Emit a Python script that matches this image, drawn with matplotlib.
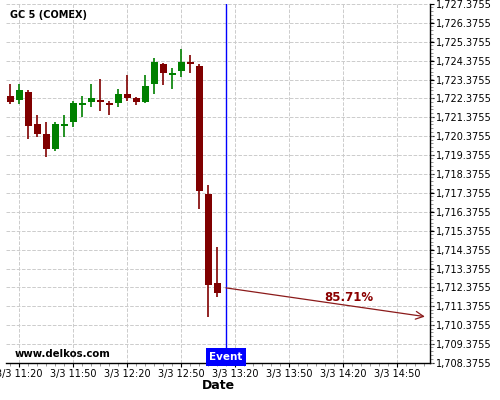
import numpy as np
import pandas as pd
import matplotlib
matplotlib.use('Agg')
import matplotlib.pyplot as plt
import matplotlib.dates as mdates
from matplotlib.ticker import MultipleLocator, FuncFormatter

# 5-minute candles, GC 5 (COMEX)
times = pd.date_range('2021-03-03 11:15', periods=24, freq='5min')
opens = [1722.51, 1722.30, 1722.72, 1721.03, 1720.50, 1719.72, 1720.92, 1721.13,
         1722.03, 1722.19, 1722.30, 1722.15, 1722.15, 1722.61, 1722.40, 1722.19,
         1723.14, 1724.20, 1723.64, 1723.85, 1724.31, 1724.09, 1717.32, 1712.63]
highs = [1723.14, 1723.14, 1722.83, 1721.49, 1721.13, 1721.13, 1721.49, 1722.26,
         1722.51, 1723.14, 1723.39, 1722.26, 1722.89, 1723.64, 1722.45, 1723.64,
         1724.52, 1724.25, 1723.99, 1725.01, 1724.69, 1724.20, 1717.82, 1714.50]
lows = [1722.10, 1722.10, 1720.22, 1720.35, 1719.30, 1719.61, 1720.35, 1720.88,
        1721.38, 1721.91, 1721.70, 1721.49, 1721.91, 1722.26, 1722.05, 1722.12,
        1722.61, 1723.10, 1722.89, 1723.50, 1723.71, 1716.54, 1710.80, 1711.86]
closes = [1722.19, 1722.83, 1720.92, 1720.50, 1719.72, 1721.03, 1721.03, 1722.15,
          1722.15, 1722.40, 1722.19, 1722.05, 1722.61, 1722.40, 1722.19, 1723.04,
          1724.31, 1723.74, 1723.74, 1724.31, 1724.20, 1717.50, 1712.52, 1712.10]

event_time = pd.Timestamp('2021-03-03 13:15')
arrow_start = (pd.Timestamp('2021-03-03 13:15'), 1712.35)
arrow_end = (pd.Timestamp('2021-03-03 15:05:30'), 1710.83)
prob_text = '85.71%'
prob_pos = (pd.Timestamp('2021-03-03 14:23'), 1711.85)

y_ticks = np.arange(1708.3755, 1727.4, 1.0)
x_start = pd.Timestamp('2021-03-03 11:12:45')
x_end = pd.Timestamp('2021-03-03 15:08:20')

fig = plt.figure(figsize=(5, 4), dpi=100)
ax = fig.add_axes([0.012, 0.0925, 0.848, 0.8975])

x = mdates.date2num(times)
w = 5 / (24 * 60) * 0.78
for xi, o, h, l, c in zip(x, opens, highs, lows, closes):
    col = '#008000' if c >= o else '#800000'
    ax.vlines(xi, l, h, color=col, linewidth=1.2, zorder=3)
    ax.bar(xi, max(abs(c - o), 0.1), bottom=min(o, c), width=w, color=col, zorder=4)

ax.axvline(mdates.date2num(event_time), color='#0000ff', linewidth=1, zorder=5)
ax.annotate('', xy=(mdates.date2num(arrow_end[0]), arrow_end[1]),
            xytext=(mdates.date2num(arrow_start[0]), arrow_start[1]),
            arrowprops=dict(arrowstyle='->', color='#8b1a1a', lw=0.9,
                            mutation_scale=14, shrinkA=0, shrinkB=0), zorder=5)
ax.text(mdates.date2num(prob_pos[0]), prob_pos[1], prob_text,
        color='#8b0000', fontsize=8.5, fontweight='bold', ha='center', va='center')

ax.set_xlim(mdates.date2num(x_start), mdates.date2num(x_end))
ax.set_ylim(y_ticks[0], y_ticks[-1])
ax.yaxis.tick_right()
ax.set_yticks(y_ticks)
ax.yaxis.set_major_formatter(FuncFormatter(lambda v, p: f'{v:,.4f}'))
ax.yaxis.set_minor_locator(MultipleLocator(0.2))
ax.xaxis.set_major_locator(mdates.MinuteLocator(byminute=[20, 50]))
ax.xaxis.set_minor_locator(mdates.MinuteLocator(byminute=range(0, 60, 5)))
ax.xaxis.set_major_formatter(FuncFormatter(
    lambda v, p: '{d.month}/{d.day} {d:%H:%M}'.format(d=mdates.num2date(v))))
ax.tick_params(axis='both', labelsize=7, length=3, width=0.8, pad=1)
ax.tick_params(which='minor', length=2, width=0.6, color='#888888')

for s in ['top', 'left']:
    ax.spines[s].set_visible(False)
ax.spines['right'].set_linewidth(1)
ax.spines['bottom'].set_linewidth(1)
ax.grid(True, color='#cccccc', linestyle='--', linewidth=0.7)
ax.set_axisbelow(True)

ax.set_xlabel('Date', fontsize=9, fontweight='bold', labelpad=0)
ax.text(0.01, 0.97, 'GC 5 (COMEX)', transform=ax.transAxes, fontsize=7,
        fontweight='bold', ha='left', va='center')
ax.text(0.021, 0.026, 'www.delkos.com', transform=ax.transAxes, fontsize=7.3,
        fontweight='bold', ha='left', va='center')
ax.text(mdates.date2num(event_time), y_ticks[0] + 0.05, 'Event', color='white',
        fontsize=7.5, fontweight='bold', ha='center', va='bottom', zorder=6,
        bbox=dict(boxstyle='square,pad=0.35', facecolor='#0000ff', edgecolor='none'))

fig.savefig('out.png', dpi=100)
